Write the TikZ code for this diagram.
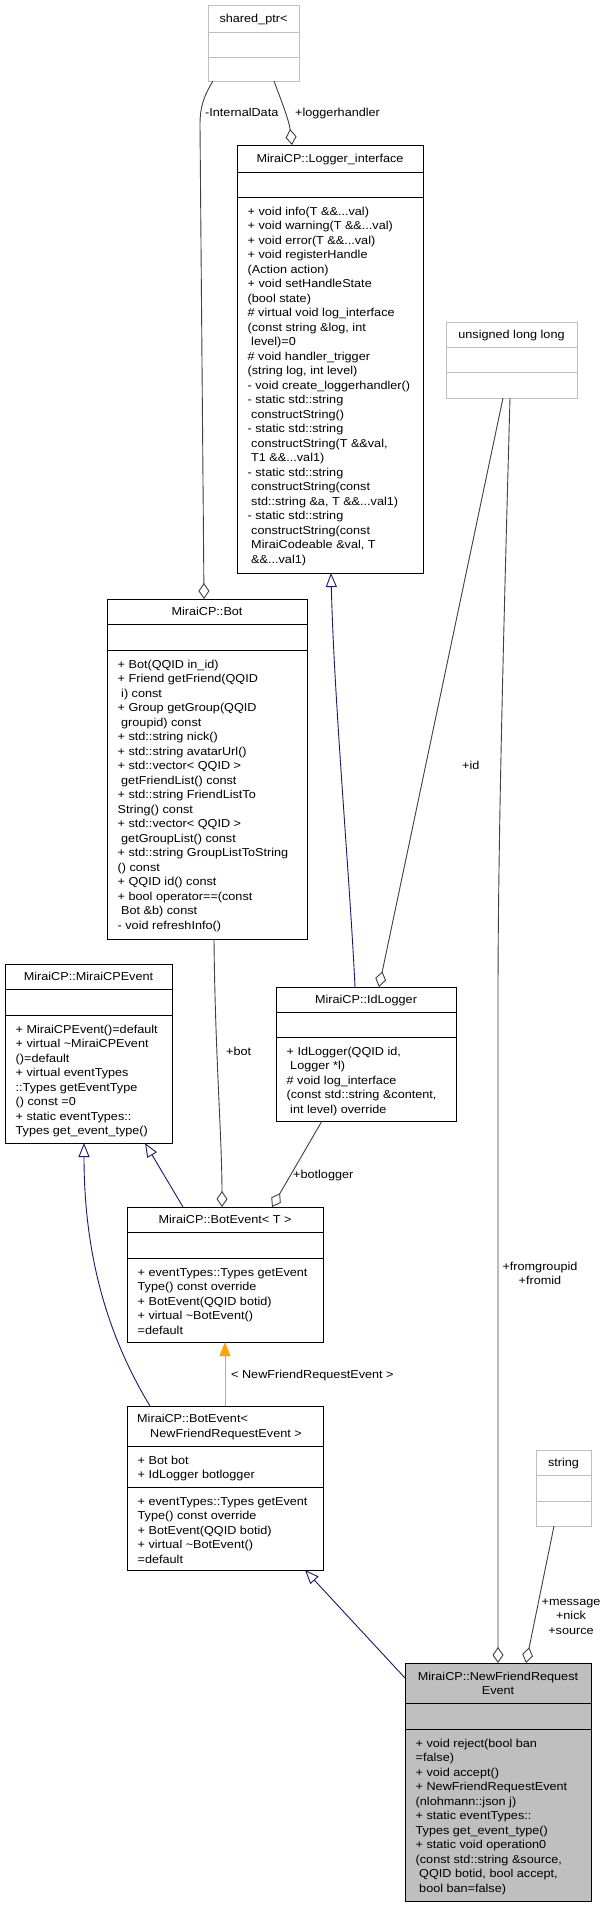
\documentclass[tikz,border=0pt]{standalone}
\usepackage{fontspec}
\setmainfont{Liberation Sans}[FakeStretch=1.1]
\usetikzlibrary{arrows.meta}
\definecolor{edgegray}{HTML}{404040}
\definecolor{extgray}{HTML}{BFBFBF}
\definecolor{inhblue}{HTML}{191970}
\definecolor{tmplorange}{HTML}{FFA500}
\newcommand\dfont{\fontsize{11.5}{14.5}\selectfont}
\newcommand\fs{\rule{0pt}{11pt}}
\begin{document}
\begin{tikzpicture}[x=1pt,y=-1pt,
  clsbox/.style={draw=black, line width=1pt, inner sep=0pt, outer sep=0pt, anchor=north west},
  extbox/.style={draw=extgray, line width=1pt, inner sep=0pt, outer sep=0pt, anchor=north west},
  curbox/.style={clsbox, fill=extgray},
  clsline/.style={draw=black, line width=1pt},
  extline/.style={draw=extgray, line width=1pt},
  ttl/.style={anchor=base, inner sep=0pt, font=\dfont},
  mem/.style={anchor=north west, inner sep=0pt, align=left, font=\dfont},
  lbl/.style={anchor=base west, inner sep=0pt, font=\dfont},
  mlbl/.style={anchor=north, inner sep=0pt, align=center, font=\dfont},
  usage/.style={draw=edgegray, line width=0.9pt, -{Diamond[open, length=16pt, width=11pt]}},
  inh/.style={draw=inhblue, line width=0.9pt, -{Triangle[open, length=14pt, width=11pt]}},
  tmpl/.style={draw=tmplorange, line width=0.9pt, -{Triangle[length=14pt, width=11pt, fill=tmplorange]}}
]
\fill[white] (0,0) rectangle (609,1907);
\useasboundingbox (0,0) rectangle (609,1907);

% ---- shared_ptr<
\node[extbox, minimum width=91pt, minimum height=76pt] (sp) at (208,5) {};
\draw[extline] (sp.west |- 0,32) -- (sp.east |- 0,32);
\draw[extline] (sp.west |- 0,57) -- (sp.east |- 0,57);
\node[ttl] (spt) at (253.5,22.5) {shared\_ptr<};

% ---- Logger_interface
\node[clsbox, minimum width=186pt, minimum height=428pt] (li) at (237,145) {};
\draw[clsline] (li.west |- 0,172) -- (li.east |- 0,172);
\draw[clsline] (li.west |- 0,197) -- (li.east |- 0,197);
\node[ttl] (lit) at (330,162.5) {MiraiCP::Logger\_interface};
\node[mem] (lim) at (247.5,204) {\fs+ void info(T \&\&...val)\\
+ void warning(T \&\&...val)\\
+ void error(T \&\&...val)\\
+ void registerHandle\\
(Action action)\\
+ void setHandleState\\
(bool state)\\
\# virtual void log\_interface\\
(const string \&log, int\\
\ level)=0\\
\# void handler\_trigger\\
(string log, int level)\\
- void create\_loggerhandler()\\
- static std::string\\
\ constructString()\\
- static std::string\\
\ constructString(T \&\&val,\\
\ T1 \&\&...val1)\\
- static std::string\\
\ constructString(const\\
\ std::string \&a, T \&\&...val1)\\
- static std::string\\
\ constructString(const\\
\ MiraiCodeable \&val, T\\
\ \&\&...val1)};

% ---- unsigned long long
\node[extbox, minimum width=131pt, minimum height=76pt] (ull) at (446,322) {};
\draw[extline] (ull.west |- 0,347) -- (ull.east |- 0,347);
\draw[extline] (ull.west |- 0,372) -- (ull.east |- 0,372);
\node[ttl] (ullt) at (511.5,338.5) {unsigned long long};

% ---- Bot
\node[clsbox, minimum width=200pt, minimum height=340pt] (bot) at (107,599) {};
\draw[clsline] (bot.west |- 0,624) -- (bot.east |- 0,624);
\draw[clsline] (bot.west |- 0,650) -- (bot.east |- 0,650);
\node[ttl] (bott) at (207,615.5) {MiraiCP::Bot};
\node[mem] (botm) at (117.5,657) {\fs+ Bot(QQID in\_id)\\
+ Friend getFriend(QQID\\
\ i) const\\
+ Group getGroup(QQID\\
\ groupid) const\\
+ std::string nick()\\
+ std::string avatarUrl()\\
+ std::vector< QQID >\\
\ getFriendList() const\\
+ std::string FriendListTo\\
String() const\\
+ std::vector< QQID >\\
\ getGroupList() const\\
+ std::string GroupListToString\\
() const\\
+ QQID id() const\\
+ bool operator==(const\\
\ Bot \&b) const\\
- void refreshInfo()};

% ---- MiraiCPEvent
\node[clsbox, minimum width=167pt, minimum height=179pt] (mce) at (5,964) {};
\draw[clsline] (mce.west |- 0,989) -- (mce.east |- 0,989);
\draw[clsline] (mce.west |- 0,1015) -- (mce.east |- 0,1015);
\node[ttl] (mcet) at (88.5,980.5) {MiraiCP::MiraiCPEvent};
\node[mem] (mcem) at (15.5,1022) {\fs+ MiraiCPEvent()=default\\
+ virtual \textasciitilde MiraiCPEvent\\
()=default\\
+ virtual eventTypes\\
::Types getEventType\\
() const =0\\
+ static eventTypes::\\
Types get\_event\_type()};

% ---- IdLogger
\node[clsbox, minimum width=180pt, minimum height=134pt] (idl) at (276,987) {};
\draw[clsline] (idl.west |- 0,1012) -- (idl.east |- 0,1012);
\draw[clsline] (idl.west |- 0,1037) -- (idl.east |- 0,1037);
\node[ttl] (idlt) at (366,1003.5) {MiraiCP::IdLogger};
\node[mem] (idlm) at (286.5,1044) {\fs+ IdLogger(QQID id,\\
\ Logger *l)\\
\# void log\_interface\\
(const std::string \&content,\\
\ int level) override};

% ---- BotEvent< T >
\node[clsbox, minimum width=196pt, minimum height=135pt] (bet) at (127,1207) {};
\draw[clsline] (bet.west |- 0,1232) -- (bet.east |- 0,1232);
\draw[clsline] (bet.west |- 0,1258) -- (bet.east |- 0,1258);
\node[ttl] (bett) at (225,1223.5) {MiraiCP::BotEvent< T >};
\node[mem] (betm) at (137.5,1265) {\fs+ eventTypes::Types getEvent\\
Type() const override\\
+ BotEvent(QQID botid)\\
+ virtual \textasciitilde BotEvent()\\
=default};

% ---- BotEvent< NewFriendRequestEvent >
\node[clsbox, minimum width=196pt, minimum height=164pt] (ben) at (127,1406) {};
\draw[clsline] (ben.west |- 0,1446) -- (ben.east |- 0,1446);
\draw[clsline] (ben.west |- 0,1487) -- (ben.east |- 0,1487);
\node[ttl, anchor=base west] (bent1) at (137,1422.5) {MiraiCP::BotEvent<};
\node[ttl] (bent2) at (226,1437) {NewFriendRequestEvent >};
\node[mem] (bena) at (137.5,1453) {\fs+ Bot bot\\
+ IdLogger botlogger};
\node[mem] (benm) at (137.5,1494) {\fs+ eventTypes::Types getEvent\\
Type() const override\\
+ BotEvent(QQID botid)\\
+ virtual \textasciitilde BotEvent()\\
=default};

% ---- string
\node[extbox, minimum width=55pt, minimum height=76pt] (str) at (536,1450) {};
\draw[extline] (str.west |- 0,1475) -- (str.east |- 0,1475);
\draw[extline] (str.west |- 0,1501) -- (str.east |- 0,1501);
\node[ttl] (strt) at (563.5,1466.5) {string};

% ---- NewFriendRequestEvent
\node[curbox, minimum width=186pt, minimum height=238pt] (nfre) at (405,1663) {};
\draw[clsline] (nfre.west |- 0,1703) -- (nfre.east |- 0,1703);
\draw[clsline] (nfre.west |- 0,1729) -- (nfre.east |- 0,1729);
\node[ttl] (nfret1) at (498,1680) {MiraiCP::NewFriendRequest};
\node[ttl] (nfret2) at (498,1694.5) {Event};
\node[mem] (nfrem) at (415.5,1736) {\fs+ void reject(bool ban\\
=false)\\
+ void accept()\\
+ NewFriendRequestEvent\\
(nlohmann::json j)\\
+ static eventTypes::\\
Types get\_event\_type()\\
+ static void operation0\\
(const std::string \&source,\\
\ QQID botid, bool accept,\\
\ bool ban=false)};

% ---- connectors
\draw[usage] (213,0 |- sp.south) .. controls (204,96) and (200,106) .. (200,125) -- (204,0 |- bot.north);
\node[lbl] (l1) at (205,116) {-InternalData};

\draw[usage] (274,0 |- sp.south) .. controls (281,100) and (289,120) .. (292,0 |- li.north);
\node[lbl] (l2) at (295,116) {+loggerhandler};

\draw[inh] (355,0 |- idl.north) .. controls (350,880) and (334,700) .. (331,0 |- li.south);

\draw[usage] (503,0 |- ull.south) -- (379,0 |- idl.north);
\node[lbl] (l3) at (462,769) {+id};

\draw[usage] (510,0 |- ull.south) .. controls (503,650) and (498,850) .. (498,1000) -- (498,0 |- nfre.north);
\node[mlbl] (l4) at (540,1259) {\fs+fromgroupid\\+fromid};

\draw[usage] (554,0 |- str.south) -- (526,0 |- nfre.north);
\node[mlbl] (l5) at (571,1594) {\fs+message\\+nick\\+source};

\draw[usage] (214,0 |- bot.south) .. controls (215,1050) and (222,1140) .. (222,0 |- bet.north);
\node[lbl] (l6) at (226,1055) {+bot};

\draw[usage] (322,0 |- idl.south) -- (272,0 |- bet.north);
\node[lbl] (l7) at (293,1178) {+botlogger};

\draw[inh] (183,0 |- bet.north) -- (145,0 |- mce.south);
\draw[inh] (150,0 |- ben.north) .. controls (110,1340) and (84,1260) .. (84,0 |- mce.south);

\draw[tmpl] (225,0 |- ben.north) -- (225,0 |- bet.south);
\node[lbl] (l8) at (231,1378) {< NewFriendRequestEvent >};

\draw[inh] (nfre.west |- 0,1678) -- (305,0 |- ben.south);
\end{tikzpicture}
\end{document}
